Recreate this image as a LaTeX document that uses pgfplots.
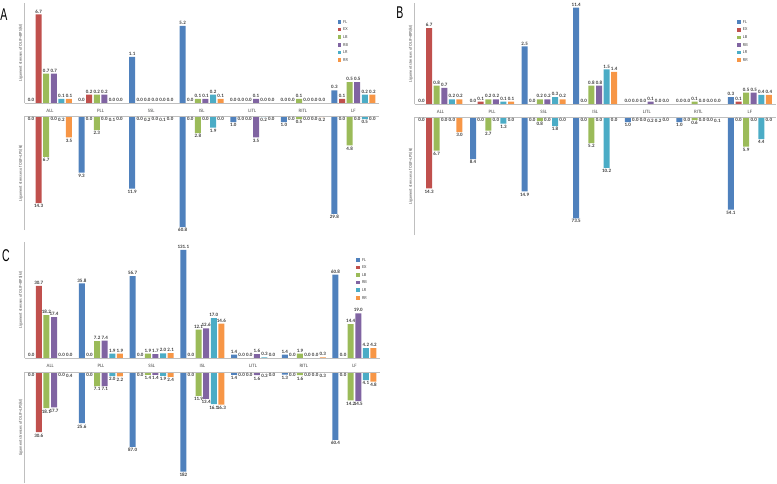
\documentclass[border=0pt]{standalone}
\usepackage{pgfplots}
\pgfplotsset{compat=1.18}
\usepackage{pgfplotstable}
\usepackage{fontspec}
\setmainfont{Carlito}
\setsansfont{Liberation Sans}

\definecolor{cFL}{HTML}{4F81BD}
\definecolor{cEX}{HTML}{C0504D}
\definecolor{cLB}{HTML}{9BBB59}
\definecolor{cRB}{HTML}{8064A2}
\definecolor{cLR}{HTML}{4BACC6}
\definecolor{cRR}{HTML}{F79646}
\definecolor{axisgray}{HTML}{BFBFBF}

\pgfplotstableread{
x FL EX LB RB LR RR
0 0.0 6.7 0.7 0.7 0.1 0.1
1 0.0 0.2 0.2 0.2 0.0 0.0
2 1.1 0.0 0.0 0.0 0.0 0.0
3 5.2 0.0 0.1 0.1 0.2 0.1
4 0.0 0.0 0.0 0.1 0.0 0.0
5 0.0 0.0 0.1 0.0 0.0 0.0
6 0.3 0.1 0.5 0.5 0.2 0.2
}\Aup
\pgfplotstableread{
x FL EX LB RB LR RR
0 0.0 14.3 6.7 0.0 0.2 3.5
1 9.3 0.0 2.3 0.0 0.1 0.0
2 11.9 0.0 0.2 0.0 0.1 0.0
3 60.8 0.0 2.8 0.0 1.9 0.0
4 1.0 0.0 0.0 3.5 0.2 0.0
5 1.0 0.0 0.5 0.0 0.0 0.2
6 29.8 0.0 4.8 0.0 0.5 0.0
}\Adown
\pgfplotstableread{
x FL EX LB RB LR RR
0 0.0 6.7 0.8 0.7 0.2 0.2
1 0.0 0.1 0.2 0.2 0.1 0.1
2 2.5 0.0 0.2 0.2 0.3 0.2
3 11.4 0.0 0.8 0.8 1.5 1.4
4 0.0 0.0 0.0 0.1 0.0 0.0
5 0.0 0.0 0.1 0.0 0.0 0.0
6 0.3 0.1 0.5 0.5 0.4 0.4
}\Bup
\pgfplotstableread{
x FL EX LB RB LR RR
0 0.0 14.3 6.7 0.0 0.0 3.0
1 8.4 0.0 2.7 0.0 1.3 0.0
2 14.9 0.0 0.8 0.0 1.8 0.0
3 73.5 0.0 5.2 0.0 10.2 0.0
4 1.0 0.0 0.0 0.2 0.2 0.0
5 1.0 0.0 0.6 0.0 0.0 0.1
6 54.1 0.0 5.9 0.0 4.4 0.0
}\Bdown
\pgfplotstableread{
x FL EX LB RB LR RR
0 0.0 30.7 18.2 17.4 0.0 0.0
1 35.8 0.0 7.2 7.4 1.9 1.9
2 56.7 0.0 1.9 1.7 2.0 2.1
3 131.1 0.0 12.1 12.6 17.0 14.6
4 1.4 0.0 0.0 1.6 0.3 0.0
5 1.4 0.0 1.9 0.0 0.0 0.3
6 60.8 0.0 14.4 19.0 4.2 4.2
}\Cup
\pgfplotstableread{
x FL EX LB RB LR RR
0 0.0 30.6 18.1 17.7 0.0 0.4
1 25.6 0.0 7.1 7.1 2.0 2.2
2 87.0 0.0 1.4 1.4 1.9 2.4
3 182 0.0 11.9 13.4 16.1 16.3
4 1.4 0.0 0.0 1.6 0.3 0.0
5 1.3 0.0 1.6 0.0 0.0 0.3
6 60.4 0.0 14.2 14.5 4.1 4.8
}\Cdown

\newcommand{\sixbars}[1]{%
\addplot[fill=cFL,draw=none] table[x=x,y=FL,meta=FL]{#1};
\addplot[fill=cEX,draw=none] table[x=x,y=EX,meta=EX]{#1};
\addplot[fill=cLB,draw=none] table[x=x,y=LB,meta=LB]{#1};
\addplot[fill=cRB,draw=none] table[x=x,y=RB,meta=RB]{#1};
\addplot[fill=cLR,draw=none] table[x=x,y=LR,meta=LR]{#1};
\addplot[fill=cRR,draw=none] table[x=x,y=RR,meta=RR]{#1};
\draw[axisgray,line width=0.8pt] (axis cs:-0.5,0) -- (axis cs:6.5,0);
\draw[axisgray,line width=0.8pt] (rel axis cs:0,0) -- (rel axis cs:0,1);
}

\pgfplotsset{
  panel/.style={
    scale only axis, xmin=-0.5, xmax=6.5, ymin=0,
    ybar=1.6pt, bar width=6pt,
    axis line style={draw=none}, ytick=\empty, xtick={0,...,6},
    major tick length=0pt,
    x tick label style={font=\fontsize{5}{5}\selectfont, text=black!70, yshift=-2.5pt},
    nodes near coords, point meta=explicit symbolic,
    every node near coord/.append style={font=\fontsize{5}{5}\selectfont\bfseries, text=black!75, inner sep=1.2pt},
    every axis y label/.style={at={(rel axis cs:0,0.5)}, rotate=90, anchor=south, font=\fontsize{4.2}{4.2}\selectfont, text=black!70, inner sep=2pt},
    clip=false,
    legend image code/.code={\fill[##1] (0pt,-1.8pt) rectangle (3.6pt,1.8pt);},
    legend cell align=left,
    legend style={draw=none, fill=none, anchor=north west, font=\fontsize{4.5}{4.5}\selectfont, text=black!70, row sep=3pt, column sep=1.5pt, nodes={inner sep=0.5pt, text height=3pt, text depth=0.6pt}},
  },
  upper/.style={xticklabels={ALL,PLL,SSL,ISL,LITL,RITL,LF}, ylabel={Ligament stresses of OLIF+BPS(kI)}},
  lower/.style={y dir=reverse, xticklabels={}, nodes near coords align=below, ylabel={Ligament stresses of OLIF+LPS(kI)}},
}

\begin{document}
\begin{tikzpicture}
\path[use as bounding box] (0,0) rectangle (777pt,-483pt);

% ---------- A ----------
\begin{axis}[panel, upper, at={(24.7pt,-3pt)}, anchor=north west, width=354pt, height=100pt,
  ymax=8.22, y coord trafo/.code={\pgfmathparse{min(#1,1.1)+0.18*max(#1-1.1,0)}},
  legend style={at={(0.875,0.855)}}]
\sixbars{\Aup}
\legend{FL,EX,LB,RB,LR,RR}
\end{axis}
\begin{axis}[panel, lower, at={(24.7pt,-116pt)}, anchor=north west, width=354pt, height=114pt,
  ymax=67.7, y coord trafo/.code={\pgfmathparse{min(#1,15)+0.07*max(#1-15,0)}}]
\sixbars{\Adown}
\end{axis}

% ---------- B ----------
\begin{axis}[panel, upper, at={(414.7pt,-3pt)}, anchor=north west, width=361pt, height=101pt,
  ymax=12.45, y coord trafo/.code={\pgfmathparse{min(#1,2.5)+0.19*max(#1-2.5,0)}},
  legend style={at={(0.885,0.855)}}]
\sixbars{\Bup}
\legend{FL,EX,LB,RB,LR,RR}
\end{axis}
\begin{axis}[panel, lower, at={(414.7pt,-117pt)}, anchor=north west, width=361pt, height=118pt,
  ymax=110.6, y coord trafo/.code={\pgfmathparse{min(#1,15)+0.09*max(#1-15,0)}}]
\sixbars{\Bdown}
\end{axis}

% ---------- C ----------
\begin{axis}[panel, upper, at={(24.85pt,-242pt)}, anchor=north west, width=355pt, height=116pt,
  ymax=153.4, y coord trafo/.code={\pgfmathparse{min(#1,31)+0.15*max(#1-31,0)}},
  legend style={at={(0.925,0.885)}}]
\sixbars{\Cup}
\legend{FL,EX,LB,RB,LR,RR}
\end{axis}
\begin{axis}[panel, lower, at={(24.85pt,-372pt)}, anchor=north west, width=355pt, height=111pt,
  ymax=226, y coord trafo/.code={\pgfmathparse{min(#1,30)+0.13*max(#1-30,0)}}]
\sixbars{\Cdown}
\end{axis}

\node[font=\sffamily\fontsize{17}{17}\selectfont, xscale=0.62] at (4pt,-15pt) {A};
\node[font=\sffamily\fontsize{17}{17}\selectfont, xscale=0.62] at (400pt,-13pt) {B};
\node[font=\sffamily\fontsize{17}{17}\selectfont, xscale=0.62] at (6pt,-256pt) {C};
\end{tikzpicture}
\end{document}
